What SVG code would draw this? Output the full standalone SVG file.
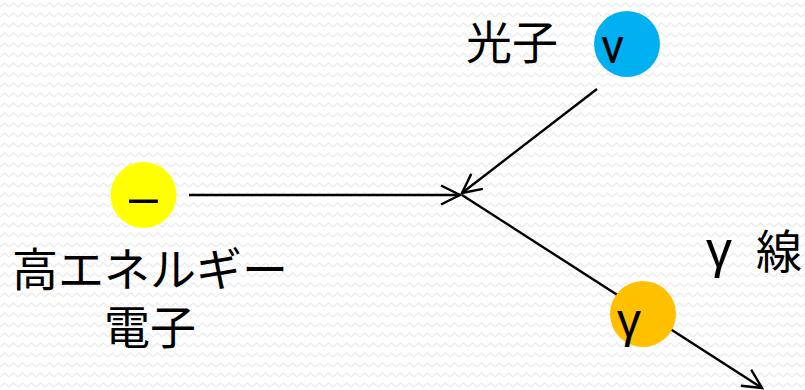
<svg xmlns="http://www.w3.org/2000/svg" width="805" height="390" viewBox="0 0 805 390">
  <style>
    .lbl { font-family: "Noto Sans CJK JP", "Noto Sans", sans-serif; font-size: 46px; fill: #000; }
    .sym { font-family: "Liberation Sans", Arial, sans-serif; font-size: 48px; fill: #000; }
    .conn { stroke: #000; stroke-width: 2.4; fill: none; }
  </style>
  <defs>
    <pattern id="zig" width="9" height="10" patternUnits="userSpaceOnUse">
      <path d="M0,7 L4.5,3 L9,7" stroke="#ececec" stroke-width="1.5" fill="none"/>
    </pattern>
    <marker id="open" markerUnits="userSpaceOnUse" markerWidth="24" markerHeight="24" viewBox="-20 -12 24 24" refX="0" refY="0" orient="auto" overflow="visible">
      <path d="M-19,-9.5 L0,0 L-19,9.5" stroke="#000" stroke-width="2.4" fill="none"/>
    </marker>
  </defs>
  <rect width="805" height="390" fill="#fff"/>
  <rect width="805" height="390" fill="url(#zig)"/>

  <g id="connectors">
    <line class="conn" x1="189" y1="195" x2="460" y2="195" marker-end="url(#open)"/>
    <line class="conn" x1="597" y1="89" x2="462" y2="193" marker-end="url(#open)"/>
    <line class="conn" x1="462" y1="195" x2="762" y2="388" marker-end="url(#open)"/>
  </g>

  <g id="electron">
    <circle cx="143.5" cy="195" r="33" fill="#FFFF00"/>
    <text class="sym" x="129" y="214" style="font-size:52px">–</text>
  </g>
  <g id="electron-label">
    <text class="lbl" text-anchor="middle"><tspan x="150" y="286">高エネルギー</tspan><tspan x="150" y="344">電子</tspan></text>
  </g>

  <g id="photon">
    <circle cx="627" cy="44" r="33" fill="#00B0F0"/>
    <text x="601" y="63" style="font-family:Roboto,sans-serif;font-size:48px;fill:#000">ν</text>
  </g>
  <g id="photon-label">
    <text class="lbl" x="466" y="59">光子</text>
  </g>

  <g id="gamma">
    <circle cx="643" cy="314" r="33" fill="#FFC000"/>
    <text class="sym" x="617" y="337">γ</text>
  </g>
  <g id="gamma-label">
    <text class="sym" x="706" y="267" style="font-size:52px">γ</text>
    <text class="lbl" x="756" y="268">線</text>
  </g>
</svg>
